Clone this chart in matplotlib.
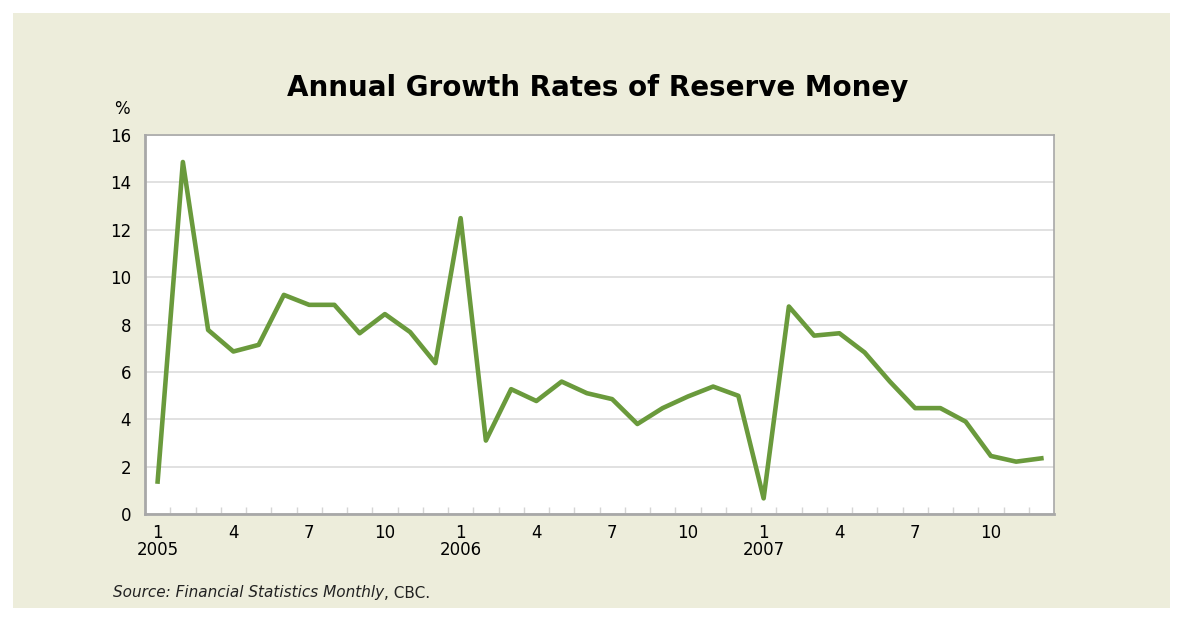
# Annual growth rates of reserve money, monthly 2005-2007

import matplotlib
matplotlib.use('Agg')
import matplotlib.pyplot as plt
from matplotlib.patches import Rectangle

# Datos: 36 meses (ene 2005 - dic 2007)
months = [1, 2, 3, 4, 5, 6, 7, 8, 9, 10, 11, 12] * 3
years = [2005] * 12 + [2006] * 12 + [2007] * 12
growth = [1.37, 14.86, 7.77, 6.86, 7.14, 9.25, 8.83, 8.83, 7.63, 8.44, 7.68, 6.37,
          12.49, 3.10, 5.27, 4.77, 5.59, 5.10, 4.85, 3.80, 4.47, 4.96, 5.38, 4.99,
          0.66, 8.76, 7.53, 7.63, 6.82, 5.59, 4.47, 4.47, 3.90, 2.45, 2.21, 2.35]
y_ticks = [0, 2, 4, 6, 8, 10, 12, 14, 16]

bg = '#EDEDDB'
green = '#6A9A3C'

W, H = 1183, 621
fig = plt.figure(figsize=(W / 100, H / 100), dpi=100)
fig.patch.set_facecolor('white')
# fondo crema con margen blanco
fig.patches.append(Rectangle((13 / W, 1 - 608 / H), (1170 - 13) / W, (608 - 13) / H,
                             transform=fig.transFigure, facecolor=bg, edgecolor='none',
                             zorder=-10))

ax = fig.add_axes([145 / W, 1 - 514 / H, (1054 - 145) / W, (514 - 135) / H])
ax.set_facecolor('white')

x = list(range(len(growth)))
ax.plot(x, growth, color=green, linewidth=3.3, zorder=3)

ax.set_xlim(-0.5, len(growth) - 0.5)
ax.set_ylim(0, 16)
ax.set_yticks(y_ticks)
ax.set_yticklabels([str(v) for v in y_ticks], fontsize=12)
ax.yaxis.grid(True, color='#DCDCDC', linewidth=1.2)
ax.set_axisbelow(True)

# etiquetas del eje x: meses 1, 4, 7, 10 con el año bajo enero
pos = [i for i, m in enumerate(months) if m in (1, 4, 7, 10)]
labels = [f'{months[i]}\n{years[i]}' if months[i] == 1 else str(months[i]) for i in pos]
ax.set_xticks(pos)
ax.set_xticklabels(labels, fontsize=12, linespacing=0.95, va='top')
ax.tick_params(axis='x', which='major', length=0, pad=7)
ax.tick_params(axis='y', length=0, pad=10)

# marcas menores entre meses, hacia dentro
ax.set_xticks([i - 0.5 for i in range(1, len(growth))], minor=True)
ax.tick_params(axis='x', which='minor', direction='in', length=5, color='#D5D5D5', width=1)

for s in ax.spines.values():
    s.set_color('#A8A8A8')
    s.set_linewidth(1.2)
ax.spines['left'].set_linewidth(2)
ax.spines['bottom'].set_linewidth(2)

fig.text(598 / W, 1 - 88 / H, 'Annual Growth Rates of Reserve Money',
         ha='center', va='center', fontsize=20, fontweight='bold')
fig.text(122 / W, 1 - 109 / H, '%', ha='center', va='center', fontsize=12)

# fuente: título de la publicación en cursiva
t1 = fig.text(113 / W, 1 - 593 / H, 'Source: Financial Statistics Monthly',
              ha='left', va='center', fontsize=11, style='italic', color='#222222')
fig.add_artist(plt.Annotation(', CBC.', xy=(1, 0), xycoords=t1, va='bottom', ha='left',
                              fontsize=11, color='#222222'))

fig.savefig('out.png', dpi=100, facecolor=fig.get_facecolor())
